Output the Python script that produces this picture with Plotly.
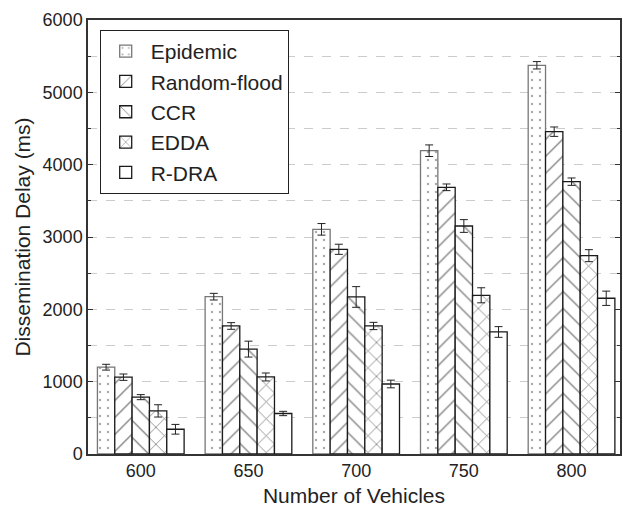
import plotly.graph_objects as go

vehicles = [600, 650, 700, 750, 800]
series_names = ["Epidemic", "Random-flood", "CCR", "EDDA", "R-DRA"]
epidemic = [1200, 2175, 3106, 4193, 5374]
epidemic_err = [40, 46, 80, 80, 51]
random_flood = [1062, 1770, 2830, 3687, 4456]
random_flood_err = [44, 46, 70, 46, 65]
ccr = [786, 1450, 2171, 3152, 3765]
ccr_err = [35, 110, 143, 88, 51]
edda = [596, 1065, 1770, 2194, 2742]
edda_err = [85, 55, 50, 104, 83]
rdra = [342, 560, 968, 1687, 2153]
rdra_err = [67, 30, 53, 74, 99]

values = [epidemic, random_flood, ccr, edda, rdra]
errors = [epidemic_err, random_flood_err, ccr_err, edda_err, rdra_err]
patterns = [
    dict(shape=".", size=8, solidity=0.08, fgcolor="#555555", bgcolor="white", fillmode="overlay"),
    dict(shape="/", size=12, solidity=0.11, fgcolor="#000000", bgcolor="white", fillmode="overlay"),
    dict(shape="\\", size=12, solidity=0.11, fgcolor="#000000", bgcolor="white", fillmode="overlay"),
    dict(shape="x", size=12, solidity=0.13, fgcolor="#000000", bgcolor="white", fillmode="overlay"),
    dict(shape="", fgcolor="#000000", bgcolor="white"),
]
outline = ["#777777", "#1a1a1a", "#1a1a1a", "#1a1a1a", "#1a1a1a"]

FONT = "Liberation Sans, Arial, sans-serif"

fig = go.Figure()
for name, v, e, p, oc in zip(series_names, values, errors, patterns, outline):
    fig.add_trace(go.Bar(
        x=vehicles, y=v, name=name,
        marker=dict(color="white", pattern=p, line=dict(color=oc, width=1.3)),
        error_y=dict(type="data", array=e, visible=True, color="#222222", thickness=1, width=4),
    ))

fig.update_layout(
    width=623, height=507,
    margin=dict(l=88, r=1, t=20, b=53),
    paper_bgcolor="white", plot_bgcolor="white",
    barmode="group", bargap=0.195, bargroupgap=0,
    font=dict(family=FONT, size=18, color="#222222"),
    showlegend=True,
    legend=dict(
        x=0.022, y=0.977, xanchor="left", yanchor="top",
        bordercolor="#222222", borderwidth=1, bgcolor="white",
        font=dict(size=21, family=FONT, color="#222222"),
        tracegroupgap=0, itemwidth=40,
    ),
)
fig.update_xaxes(
    range=[575.5, 822.5], tickvals=vehicles, ticktext=[str(v) for v in vehicles],
    showline=True, linecolor="#333333", linewidth=1.5, mirror=True,
    ticks="", showgrid=False, zeroline=False,
    tickfont=dict(size=18),
    title=dict(text="Number of Vehicles", font=dict(size=21), standoff=8),
)
fig.update_yaxes(
    range=[0, 6000], dtick=1000,
    showline=True, linecolor="#333333", linewidth=1.5, mirror="ticks",
    ticks="inside", ticklen=5, tickcolor="#333333",
    showgrid=True, gridcolor="#cccccc", griddash="dash", gridwidth=1,
    minor=dict(dtick=500, showgrid=True, gridcolor="#cccccc", griddash="dash",
               ticks="inside", ticklen=3, tickcolor="#333333"),
    zeroline=False,
    tickfont=dict(size=18),
    title=dict(text="Dissemination Delay (ms)", font=dict(size=21), standoff=6),
)

fig.write_html("out.html")
